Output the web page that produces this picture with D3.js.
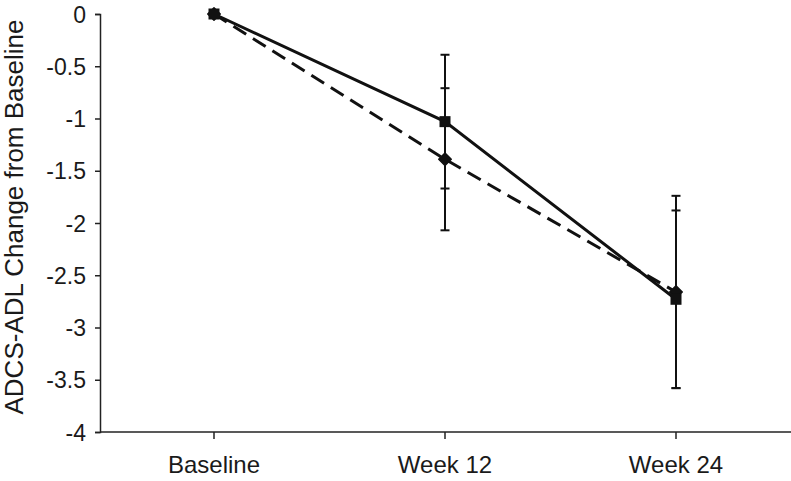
<!DOCTYPE html>
<html>
<head>
<meta charset="utf-8">
<script src="https://cdn.jsdelivr.net/npm/d3@7"></script>
<style>
  body { margin: 0; background: #fff; }
  text { font-family: "Liberation Sans", Arial, sans-serif; fill: #1a1a1a; }
</style>
</head>
<body>
<svg id="chart" width="791" height="481"></svg>
<script>
const svg = d3.select("#chart");

// data
const weeks = [0, 12, 24];
const xLabels = ["Baseline", "Week 12", "Week 24"];
const yTicks = [0, -0.5, -1, -1.5, -2, -2.5, -3, -3.5, -4];
const solidMean = [0, -1.03, -2.73];   // squares, solid line
const solidErr = [0, 0.64, 0.85];
const dashMean = [0, -1.39, -2.66];    // diamonds, dashed line
const dashErr = [0, 0.68, 0.92];

const x = d3.scaleLinear().domain([0, 24]).range([214, 676]);
const y = d3.scaleLinear().domain([-4, 0]).range([432, 14]);

const axisColor = "#222";

// y axis
const yAxis = svg.append("g").attr("transform", "translate(100,0)")
  .call(d3.axisLeft(y).tickValues(yTicks).tickSize(5).tickPadding(9)
    .tickFormat(d => String(d)));
yAxis.select(".domain").attr("stroke", axisColor).attr("stroke-width", 1.5);
yAxis.selectAll(".tick line").attr("stroke", axisColor).attr("stroke-width", 1.5);
yAxis.selectAll(".tick text").style("font-size", "23px").attr("fill", "#1a1a1a")
  .attr("font-family", "Liberation Sans, Arial, sans-serif").attr("dy", "0.35em");

// x axis line across full width
const xAxis = svg.append("g").attr("transform", "translate(0,432)");
xAxis.append("line").attr("x1", 100).attr("x2", 791).attr("y1", 0).attr("y2", 0)
  .attr("stroke", axisColor).attr("stroke-width", 1.5);
xAxis.selectAll(".xt").data(weeks).join("line")
  .attr("x1", d => x(d)).attr("x2", d => x(d)).attr("y1", 0).attr("y2", 7)
  .attr("stroke", axisColor).attr("stroke-width", 1.5);
xAxis.selectAll(".xl").data(weeks).join("text")
  .attr("x", d => x(d)).attr("y", 41).attr("text-anchor", "middle")
  .style("font-size", "24px").text((d, i) => xLabels[i]);

// y title
svg.append("text")
  .attr("transform", "translate(23,217) rotate(-90)")
  .attr("text-anchor", "middle")
  .style("font-size", "26px")
  .text("ADCS-ADL Change from Baseline");

function errorBars(mean, err) {
  const g = svg.append("g").attr("stroke", "#111").attr("stroke-width", 2);
  weeks.forEach((w, i) => {
    if (!err[i]) return;
    const cx = x(w);
    const top = y(mean[i] + err[i]), bot = y(mean[i] - err[i]);
    g.append("line").attr("x1", cx).attr("x2", cx).attr("y1", top).attr("y2", bot);
    g.append("line").attr("x1", cx - 4.5).attr("x2", cx + 4.5).attr("y1", top).attr("y2", top);
    g.append("line").attr("x1", cx - 4.5).attr("x2", cx + 4.5).attr("y1", bot).attr("y2", bot);
  });
}
errorBars(dashMean, dashErr);
errorBars(solidMean, solidErr);

const line = d3.line().x((d, i) => x(weeks[i])).y(d => y(d));

// dashed series with diamonds
svg.append("path").datum(dashMean).attr("d", line)
  .attr("fill", "none").attr("stroke", "#111").attr("stroke-width", 3)
  .attr("stroke-dasharray", "15,8");
svg.selectAll(".diamond").data(dashMean).join("path")
  .attr("transform", (d, i) => `translate(${x(weeks[i])},${y(d)})`)
  .attr("d", d3.symbol(d3.symbolDiamond2, 100)())
  .attr("fill", "#111").attr("stroke", "#111").attr("stroke-width", 1.5)
  .attr("stroke-linejoin", "round");

// solid series with squares
svg.append("path").datum(solidMean).attr("d", line)
  .attr("fill", "none").attr("stroke", "#111").attr("stroke-width", 3);
svg.selectAll(".square").data(solidMean).join("rect")
  .attr("x", (d, i) => x(weeks[i]) - 5.5).attr("y", d => y(d) - 5.5)
  .attr("width", 11).attr("height", 11).attr("fill", "#111");
</script>
</body>
</html>
